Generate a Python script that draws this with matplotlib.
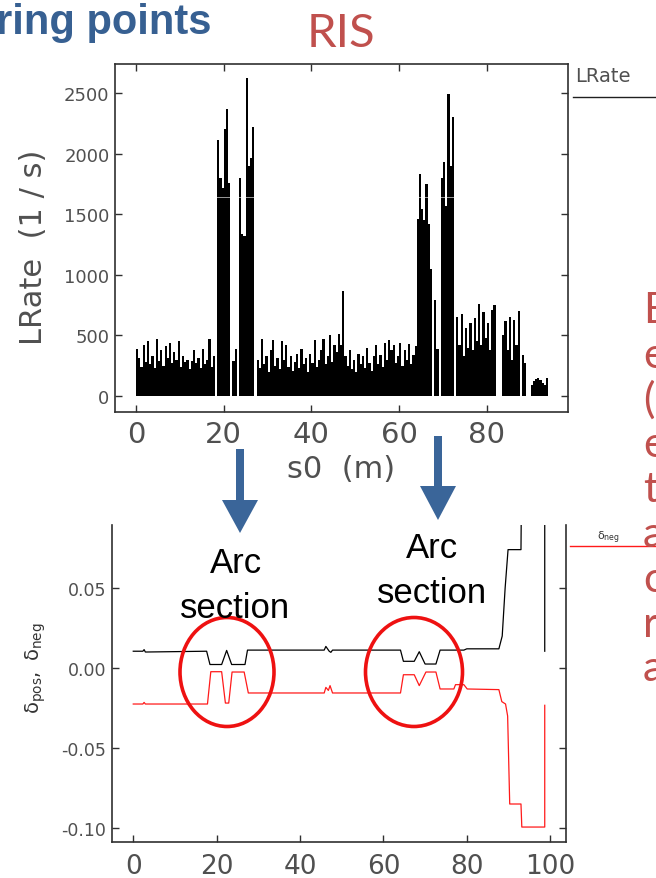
import numpy as np
import matplotlib
matplotlib.use('Agg')
import matplotlib.pyplot as plt
from matplotlib.patches import Ellipse, Polygon

plt.rcParams['mathtext.default'] = 'regular'

# ---------------- data ----------------
bin_width = 0.5  # m, bins start at s0 = 0
lrate = [
    390, 310, 240, 420, 280, 450, 260, 330, 230, 470,   # 0.0 - 4.5
    290, 380, 250, 410, 310, 440, 270, 360, 300, 450,   # 5.0 - 9.5
    240, 330, 280, 300, 220, 290, 380, 270, 310, 230,   # 10.0 - 14.5
    390, 260, 300, 470, 240, 330, 0, 2110, 1800, 1720,  # 15.0 - 19.5
    2200, 2370, 1760, 0, 290, 390, 0, 1800, 1340, 1320, # 20.0 - 24.5
    2620, 1900, 1960, 2220, 0, 300, 230, 470, 260, 330, # 25.0 - 29.5
    200, 380, 460, 250, 310, 220, 450, 300, 420, 240,   # 30.0 - 34.5
    330, 210, 280, 350, 230, 390, 260, 310, 200, 350,   # 35.0 - 39.5
    270, 460, 240, 300, 380, 470, 260, 330, 500, 280,   # 40.0 - 44.5
    420, 360, 510, 420, 870, 330, 250, 380, 220, 300,   # 45.0 - 49.5
    200, 350, 260, 330, 230, 400, 270, 210, 330, 420,   # 50.0 - 54.5
    260, 340, 240, 440, 300, 460, 380, 420, 270, 330,   # 55.0 - 59.5
    440, 250, 380, 300, 430, 260, 340, 410, 1460, 1830, # 60.0 - 64.5
    1540, 1450, 1750, 1420, 1050, 0, 790, 390, 0, 1800, # 65.0 - 69.5
    1930, 1570, 2490, 1900, 2300, 0, 650, 420, 680, 330,# 70.0 - 74.5
    560, 400, 600, 380, 640, 450, 760, 420, 690, 480,   # 75.0 - 79.5
    600, 380, 710, 750, 0, 0, 0, 500, 620, 380,         # 80.0 - 84.5
    650, 300, 630, 420, 700, 0, 340, 270, 0, 0,         # 85.0 - 89.5
    90, 120, 140, 150, 130, 110, 90, 150,               # 90.0 - 93.5
]
s_bins = np.arange(len(lrate)) * bin_width

pos_s = [0, 2.3, 2.6, 2.9, 17.6, 18.4, 21.2, 22.4, 23.6, 26.8, 27.4,
         45.8, 46.2, 47.0, 47.4, 47.8, 64.1, 64.8, 67.4, 68.6, 70.0,
         72.6, 73.6, 79.3, 80.0, 87.7, 88.5, 89.2, 89.9, 93.0, 93.4,
         98.7, 98.7]
pos_v = [0.0105, 0.0105, 0.0115, 0.0100, 0.0105, 0.0022, 0.0022, 0.0110, 0.0022, 0.0022, 0.0112,
         0.0112, 0.0135, 0.0105, 0.0098, 0.0112, 0.0112, 0.0042, 0.0042, 0.0102, 0.0025,
         0.0025, 0.0112, 0.0112, 0.0120, 0.0120, 0.0200, 0.0500, 0.0740, 0.0740, 0.2000,
         0.2000, 0.0105]

neg_s = [0, 2.3, 2.6, 2.9, 17.8, 18.6, 21.2, 22.1, 22.9, 23.7, 26.6, 27.6,
         45.8, 46.2, 46.8, 47.2, 47.8, 64.1, 64.8, 67.4, 68.6, 70.2, 72.6,
         73.6, 76.9, 77.3, 79.3, 80.1, 87.7, 88.4, 89.3, 89.8, 90.3, 93.0,
         93.2, 98.7, 98.7]
neg_v = [-0.0225, -0.0225, -0.0215, -0.0225, -0.0225, -0.0023, -0.0023, -0.0219, -0.0219, -0.0025, -0.0025, -0.0156,
         -0.0156, -0.0121, -0.0140, -0.0110, -0.0156, -0.0156, -0.0042, -0.0042, -0.0110, -0.0025, -0.0025,
         -0.0131, -0.0131, -0.0104, -0.0104, -0.0131, -0.0135, -0.0210, -0.0225, -0.0300, -0.0850, -0.0850,
         -0.0994, -0.0994, -0.0233]

top_xticks = [0, 20, 40, 60, 80]
top_yticks = [0, 500, 1000, 1500, 2000, 2500]
bot_xticks = [0, 20, 40, 60, 80, 100]
bot_yticks = [-0.10, -0.05, 0.00, 0.05]
bot_yticklabels = ['-0.10', '-0.05', '0.00', '0.05']

side_letters = ['E', 'e', '(', 'e', 't', 'a', 'c', 'r', 'a']

# ---------------- figure ----------------
W, H = 656, 879
fig = plt.figure(figsize=(W / 100, H / 100), dpi=100)
fig.patch.set_facecolor('white')

def rect(l, t, r, b):
    return [l / W, 1 - b / H, (r - l) / W, (b - t) / H]

GRAY = '#505050'
SPINE = '#303030'

# ---- top panel (LRate) ----
ax1 = fig.add_axes(rect(115, 65, 568, 413))
ax1.bar(s_bins, lrate, width=bin_width, align='edge', color='black', linewidth=0)
ax1.axhline(1640, color='white', lw=0.6, alpha=0.7)
ax1.set_xlim(-4.79, 98.5)
ax1.set_ylim(-132, 2739)
ax1.set_xticks(top_xticks)
ax1.set_yticks(top_yticks)
ax1.tick_params(axis='both', direction='in', length=5, width=1, color=SPINE,
                top=True, right=True, labelcolor=GRAY)
ax1.tick_params(axis='x', labelsize=21, pad=6)
ax1.tick_params(axis='y', labelsize=13, pad=4)
for sp in ax1.spines.values():
    sp.set_color(SPINE)
    sp.set_linewidth(1.2)

# ---- bottom panel (delta) ----
ax2 = fig.add_axes(rect(112, 526, 566, 843))
ax2.plot(pos_s, pos_v, color='black', lw=0.9)
ax2.plot(neg_s, neg_v, color='#ff1a1a', lw=0.9)
ax2.set_xlim(-5.1, 103.8)
ax2.set_ylim(-0.10875, 0.0894)
ax2.set_xticks(bot_xticks)
ax2.set_yticks(bot_yticks)
ax2.set_yticklabels(bot_yticklabels)
ax2.spines['top'].set_visible(False)
ax2.tick_params(axis='both', direction='in', length=5, width=1, color=SPINE,
                right=True, labelcolor=GRAY)
ax2.tick_params(axis='x', labelsize=19, pad=8)
ax2.tick_params(axis='y', labelsize=12.5, pad=4)
for sp in ax2.spines.values():
    sp.set_color(SPINE)
    sp.set_linewidth(1.2)

# ---------------- overlay (pixel coordinates) ----------------
ov = fig.add_axes([0, 0, 1, 1], zorder=10)
ov.set_xlim(0, W)
ov.set_ylim(H, 0)
ov.axis('off')
ov.patch.set_alpha(0)

# axis labels
ov.text(34, 247, 'LRate  (1 / s)', rotation=90, ha='center', va='center',
        fontsize=22, color=GRAY)
ov.text(341, 470, 's0  (m)', ha='center', va='center', fontsize=22, color=GRAY)
ov.text(36, 668, r'$\delta_{pos},\ \delta_{neg}$', rotation=90, ha='center', va='center',
        fontsize=14, color='#333333')

# legends at right
ov.text(575, 76, 'LRate', ha='left', va='center', fontsize=14, color=GRAY)
ov.plot([573, 656], [98, 98], color='#202020', lw=1)
ov.text(597, 538, r'$\delta_{neg}$', ha='left', va='center', fontsize=8, color='#333333')
ov.plot([570, 656], [547, 547], color='#ff1a1a', lw=1)

# slide title fragments
ov.text(212, 34, 'ring points', ha='right', va='baseline', fontsize=30,
        fontweight='bold', color='#376092', family='Liberation Sans')
ov.text(307, 47, 'RIS', ha='left', va='baseline', fontsize=34,
        color='#C0504D', family='Lato')

# side red text (cropped)
for i, ch in enumerate(side_letters):
    ov.text(643, 323 + 44.8 * i, ch, ha='left', va='baseline', fontsize=31,
            color='#C0504D', family='Lato')

# arrows
BLUE = '#3A6599'
def arrow(x, y0, yhead, ytip, sw=4, hw=18):
    pts = [(x - sw, y0), (x + sw, y0), (x + sw, yhead), (x + hw, yhead),
           (x, ytip), (x - hw, yhead), (x - sw, yhead)]
    ov.add_patch(Polygon(pts, closed=True, color=BLUE, lw=0))
arrow(240, 450, 501, 534)
arrow(438, 437, 487, 521)

# Arc section labels
for cx, yb in [(235.5, 573), (432, 558)]:
    ov.text(cx, yb, 'Arc', ha='center', va='baseline', fontsize=25,
            color='black', family='Liberation Sans')
    ov.text(cx, yb + 45, 'section', ha='center', va='baseline', fontsize=25,
            color='black', family='Liberation Sans')

# red circles
for cx, w in [(227, 94), (414, 97)]:
    ov.add_patch(Ellipse((cx, 673), w, 109, fill=False, ec='#EE1111', lw=2.6))

fig.savefig('out.png', dpi=100)
